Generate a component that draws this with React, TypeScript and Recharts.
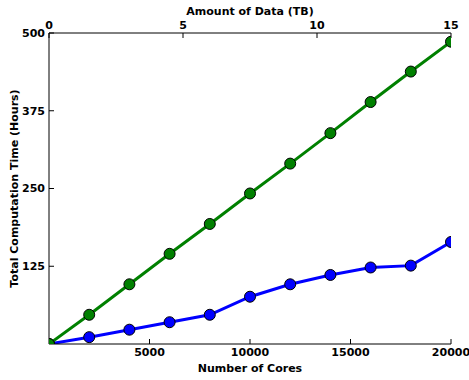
import React from 'react';
import { LineChart, Line, XAxis, YAxis, Label } from 'recharts';

const cores = [0, 2000, 4000, 6000, 8000, 10000, 12000, 14000, 16000, 18000, 20000];
const dataTB = [0, 1.5, 3, 4.5, 6, 7.5, 9, 10.5, 12, 13.5, 15];
const blueHours = [0, 11, 23, 35, 47, 76, 96, 111, 123, 126, 164];
const greenHours = [0, 47, 96, 145, 193, 242, 290, 339, 389, 438, 486];

const coreTicks = [5000, 10000, 15000, 20000];
const tbTicks = [0, 5, 10, 15];
const hourTicks = [125, 250, 375, 500];

const data = cores.map((c, i) => ({ cores: c, tb: dataTB[i], blue: blueHours[i], green: greenHours[i] }));

const FONT = 'DejaVu Sans, sans-serif';
const tickStyle = { fontFamily: FONT, fontWeight: 'bold', fontSize: 11, fill: '#000' };
const labelStyle = { fontFamily: FONT, fontWeight: 'bold', fontSize: 11, fill: '#000' };

const App: React.FC = () => {
  return (
    <div style={{ position: 'absolute', left: 0, top: 0, width: 469, height: 380, background: '#fff' }}>
      <LineChart width={469} height={380} data={data} margin={{ top: 0, right: 18, bottom: 0, left: 0 }}>
        <XAxis
          xAxisId="bottom"
          dataKey="cores"
          type="number"
          domain={[0, 20000]}
          allowDataOverflow
          ticks={coreTicks}
          height={36}
          stroke="#000"
          tickSize={-5}
          tickMargin={9}
          tick={tickStyle}
          interval={0}
        >
          <Label value="Number of Cores" position="insideBottom" offset={8} style={labelStyle} />
        </XAxis>
        <XAxis
          xAxisId="top"
          dataKey="tb"
          orientation="top"
          type="number"
          domain={[0, 15]}
          allowDataOverflow
          ticks={tbTicks}
          height={33}
          stroke="#000"
          tickSize={-5}
          tickMargin={9}
          tick={tickStyle}
          interval={0}
        >
          <Label value="Amount of Data (TB)" position="insideTop" offset={7} style={labelStyle} />
        </XAxis>
        <YAxis
          yAxisId="left"
          type="number"
          domain={[0, 500]}
          allowDataOverflow
          ticks={hourTicks}
          width={49}
          stroke="#000"
          tickSize={-5}
          tickMargin={9}
          tick={tickStyle}
          interval={0}
        >
          <Label value="Total Computation Time (Hours)" angle={-90} position="insideLeft" offset={14} style={{ ...labelStyle, textAnchor: 'middle' }} />
        </YAxis>
        <YAxis
          yAxisId="right"
          orientation="right"
          type="number"
          domain={[0, 500]}
          allowDataOverflow
          ticks={hourTicks}
          width={0}
          stroke="#000"
          tickSize={-5}
          tick={false}
        />
        <Line
          xAxisId="bottom"
          yAxisId="left"
          dataKey="blue"
          stroke="#0000ff"
          strokeWidth={3}
          dot={{ r: 5.5, fill: '#0000ff', stroke: '#000', strokeWidth: 1 }}
          isAnimationActive={false}
        />
        <Line
          xAxisId="top"
          yAxisId="right"
          dataKey="green"
          stroke="#008000"
          strokeWidth={3}
          dot={{ r: 5.5, fill: '#008000', stroke: '#000', strokeWidth: 1 }}
          isAnimationActive={false}
        />
      </LineChart>
    </div>
  );
};

export default App;
